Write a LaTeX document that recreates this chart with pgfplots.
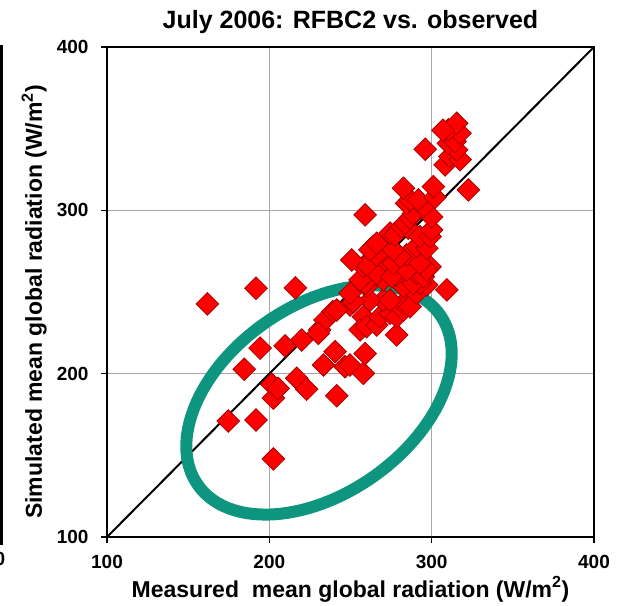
\documentclass[border=0pt]{standalone}
\usepackage{pgfplots}
\pgfplotsset{compat=1.18}
\usepackage{fontspec}
\setmainfont{Liberation Sans}
\definecolor{ellcol}{HTML}{0E9580}
\definecolor{gridc}{HTML}{A8A8A8}
\definecolor{mk}{HTML}{FF0000}
\definecolor{mkedge}{HTML}{A80000}
\pgfplotstableread{
x y
161.8 242.7
191.8 252.3
216.0 252.5
194.3 215.6
184.6 202.7
174.7 171.0
191.8 171.6
202.5 147.8
202.5 185.0
201.5 193.5
205.4 191.0
209.7 217.0
220.0 220.6
216.9 197.2
223.0 190.5
231.0 226.8
234.3 232.9
239.2 238.0
240.5 213.5
233.3 205.3
246.6 204.3
241.5 186.5
249.7 205.3
257.9 200.2
259.0 212.3
278.4 223.7
230.2 224.7
249.7 242.0
257.9 234.9
255.9 226.8
260.0 228.8
266.2 229.8
268.2 234.9
274.4 237.0
278.4 234.9
282.6 239.0
282.6 243.0
286.7 241.0
290.8 249.2
270.2 245.0
262.0 245.0
251.8 244.0
241.5 239.0
274.4 245.0
260.0 253.3
297.0 254.3
282.6 253.3
292.8 255.3
288.7 255.3
259.0 255.3
255.9 257.4
249.7 249.2
270.2 257.4
278.4 260.4
266.2 261.4
275.4 259.4
290.8 261.4
294.9 259.4
282.6 265.5
299.0 265.5
297.0 263.5
284.6 263.5
257.9 265.5
260.0 266.6
250.8 269.6
271.3 269.6
266.2 272.7
276.4 267.6
284.6 272.7
292.8 267.6
280.5 271.6
264.0 277.8
276.4 275.8
290.8 277.8
297.0 276.8
262.0 275.8
266.2 279.8
274.4 286.0
277.4 285.0
285.6 289.0
292.8 283.9
299.0 283.9
300.0 288.0
281.5 290.0
283.6 292.0
286.7 295.2
288.7 298.0
300.0 296.0
259.0 297.2
284.6 304.3
294.9 302.3
286.7 306.4
291.8 306.4
302.0 308.0
282.6 313.5
301.1 314.5
322.6 312.5
309.3 251.3
296.0 337.4
308.3 327.8
311.3 332.9
317.5 331.0
315.4 337.0
310.3 341.0
314.4 342.1
317.5 347.2
310.3 349.2
315.4 353.3
307.0 349.0
}\datatable
\begin{document}
\begin{tikzpicture}
\begin{axis}[
  at={(0,0)}, anchor=south west,
  scale only axis, width=487pt, height=490pt,
  xmin=100, xmax=400, ymin=100, ymax=400,
  xtick={100,200,300,400}, ytick={100,200,300,400},
  grid=major, grid style={gridc, line width=1.5pt},
  axis line style={line width=2.5pt},
  tick style={black, line width=1.5pt}, tick align=outside, major tick length=6pt,
  xtick pos=bottom, ytick pos=left,
  /pgf/number format/assume math mode=true,
  ticklabel style={font=\fontsize{19}{19}\selectfont\bfseries},
  yticklabel style={xshift=-9pt},
  xticklabel style={yshift=-9pt},
  title={July 2006: RFBC2 vs. observed},
  title style={font=\fontsize{25}{25}\selectfont\bfseries, at={([yshift=12pt]axis description cs:0.5,1)}, anchor=base},
  xlabel={Measured\ \ mean global radiation (W/m\textsuperscript{2})},
  ylabel={Simulated mean global radiation (W/m\textsuperscript{2})},
  xlabel style={font=\fontsize{23}{23}\selectfont\bfseries, at={([yshift=-60pt]axis description cs:0.5,0)}, anchor=base},
  ylabel style={font=\fontsize{23}{23}\selectfont\bfseries, at={([xshift=-65pt,yshift=-10pt]axis description cs:0,0.5)}, anchor=base, rotate=0},
]
\addplot[black, line width=2pt] coordinates {(100,100) (400,400)};
\addplot[only marks, mark=square*, mark size=8pt,
  mark options={rotate=45, fill=mk, draw=mkedge, line width=0.8pt}] table[x=x,y=y] {\datatable};
\draw[ellcol, line width=12pt, rotate around={35:(axis cs:230.6,183.9)}]
  (axis cs:230.6,183.9) ellipse [x radius=148pt, y radius=94pt];
\end{axis}
\draw[black, line width=3pt] (-105pt,-8pt) -- (-105pt,492pt);
\node[font=\fontsize{19}{19}\selectfont\bfseries] at (-107pt,-22pt) {0};
\pgfresetboundingbox
\path[use as bounding box] (-107pt,-68pt) rectangle (514pt,537pt);
\end{tikzpicture}
\end{document}
